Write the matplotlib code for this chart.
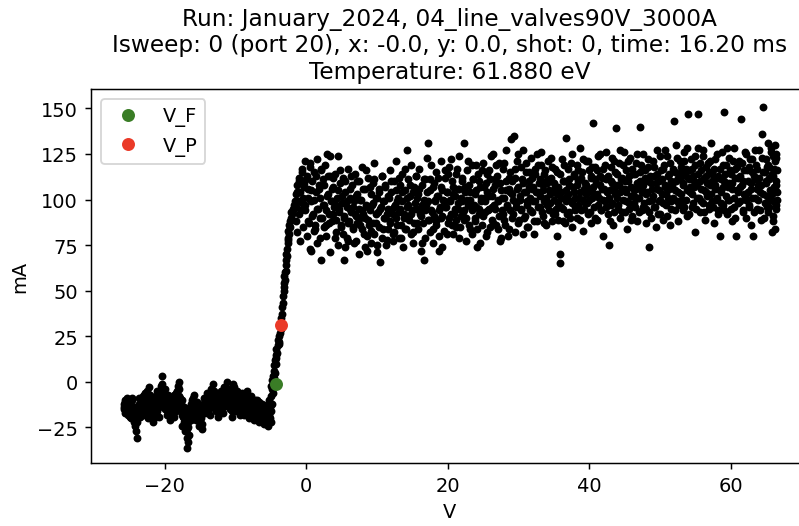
"""Langmuir probe I-V trace for one sweep, with floating and plasma potentials."""

import matplotlib

matplotlib.use("Agg")
import matplotlib.pyplot as plt
import numpy as np

RUN = "January_2024"
SETUP = "04_line_valves90V_3000A"
ISWEEP = 0
PORT = 20
PROBE_X = -0.0
PROBE_Y = 0.0
SHOT = 0
TIME_MS = 16.20
TEMPERATURE_EV = 61.880

# floating potential and plasma potential (V, mA)
V_F = (-4.2, -1.2)
V_P = (-3.5, 31.0)

# ion saturation branch (V, mA), up-sweep then down-sweep
FLOOR_UP = [
    (-25.8, -12), (-25.7, -14), (-25.6, -10), (-25.5, -16), (-25.3, -13), (-25.2, -18), (-25.1, -11), (-24.9, -15), (-24.8, -20), (-24.7, -13),
    (-24.6, -9), (-24.4, -17), (-24.3, -22), (-24.2, -14), (-24.0, -27), (-23.9, -31), (-23.8, -19), (-23.6, -12), (-23.5, -16), (-23.4, -10),
    (-23.3, -14), (-23.1, -8), (-23.0, -18), (-22.9, -12), (-22.7, -6), (-22.6, -15), (-22.5, -9), (-22.4, -20), (-22.2, -3), (-22.1, -11),
    (-22.0, -7), (-21.8, -14), (-21.7, -22), (-21.6, -17), (-21.5, -12), (-21.3, -9), (-21.2, -16), (-21.1, -5), (-20.9, -13), (-20.8, -19),
    (-20.7, -8), (-20.5, -2), (-20.4, -11), (-20.3, 3), (-20.1, -6), (-20.0, -15), (-19.9, -10), (-19.7, -18), (-19.6, -13), (-19.5, -7),
    (-19.3, -16), (-19.2, -21), (-19.1, -12), (-18.9, -9), (-18.8, -14), (-18.7, -19), (-18.5, -11), (-18.4, -6), (-18.3, -15), (-18.1, -2),
    (-18.0, -8), (-17.9, 0), (-17.7, -12), (-17.6, -18), (-17.5, -24), (-17.3, -14), (-17.2, -20), (-17.1, -27), (-16.9, -31), (-16.8, -36),
    (-16.7, -22), (-16.6, -29), (-16.4, -17), (-16.3, -12), (-16.2, -19), (-16.0, -9), (-15.9, -14), (-15.8, -7), (-15.6, -21), (-15.5, -16),
    (-15.4, -11), (-15.2, -18), (-15.1, -24), (-15.0, -13), (-14.8, -20), (-14.7, -26), (-14.6, -15), (-14.4, -9), (-14.3, -17), (-14.2, -12),
    (-14.0, -6), (-13.9, -14), (-13.8, -10), (-13.6, -18), (-13.5, -4), (-13.4, -13), (-13.2, -8), (-13.1, -1), (-13.0, -11), (-12.8, -16),
    (-12.7, -7), (-12.6, -12), (-12.4, -19), (-12.3, -9), (-12.2, -14), (-12.0, -5), (-11.9, -11), (-11.8, -17), (-11.6, -3), (-11.5, -8),
    (-11.4, -13), (-11.2, 0), (-11.1, -6), (-11.0, -10), (-10.8, -15), (-10.7, -4), (-10.6, -9), (-10.5, -19), (-10.3, -1), (-10.2, -7),
    (-10.1, -12), (-9.9, -16), (-9.8, -5), (-9.7, -10), (-9.5, -14), (-9.4, -8), (-9.3, -18), (-9.1, -11), (-9.0, -6), (-8.9, -15),
    (-8.7, -9), (-8.6, -13), (-8.5, -17), (-8.3, -5), (-8.2, -11), (-8.1, -20), (-7.9, -14), (-7.8, -8), (-7.7, -12), (-7.5, -18),
    (-7.4, -21), (-7.3, -13), (-7.1, -16), (-7.0, -10), (-6.9, -19), (-6.7, -14), (-6.6, -22), (-6.5, -17), (-6.3, -12), (-6.2, -20),
    (-6.1, -15), (-5.9, -23), (-5.8, -18), (-5.7, -13), (-5.5, -21), (-5.4, -16), (-5.3, -10), (-5.2, -19), (-5.1, -14), (-5.0, -22),
]

FLOOR_DOWN = [
    (-25.75, -15), (-25.65, -11), (-25.55, -17), (-25.45, -13), (-25.25, -9), (-25.15, -16), (-25.05, -12), (-24.85, -19), (-24.75, -14), (-24.65, -10),
    (-24.55, -13), (-24.35, -20), (-24.25, -15), (-24.15, -24), (-23.95, -18), (-23.85, -22), (-23.75, -14), (-23.55, -9), (-23.45, -19), (-23.35, -13),
    (-23.25, -11), (-23.05, -16), (-22.95, -7), (-22.85, -13), (-22.65, -10), (-22.55, -18), (-22.45, -5), (-22.35, -12), (-22.15, -8), (-22.05, -15),
    (-21.95, -12), (-21.75, -18), (-21.65, -10), (-21.55, -15), (-21.45, -20), (-21.25, -13), (-21.15, -8), (-21.05, -16), (-20.85, -11), (-20.75, -14),
    (-20.65, -5), (-20.45, -9), (-20.35, -1), (-20.25, -7), (-20.05, -12), (-19.95, -4), (-19.85, -14), (-19.65, -9), (-19.55, -17), (-19.45, -11),
    (-19.25, -13), (-19.15, -9), (-19.05, -17), (-18.85, -14), (-18.75, -11), (-18.65, -7), (-18.45, -16), (-18.35, -10), (-18.25, -5), (-18.05, -12),
    (-17.95, -4), (-17.85, -9), (-17.65, -15), (-17.55, -10), (-17.45, -19), (-17.25, -22), (-17.15, -16), (-17.05, -24), (-16.85, -26), (-16.75, -33),
    (-16.65, -25), (-16.55, -19), (-16.35, -14), (-16.25, -21), (-16.15, -10), (-15.95, -16), (-15.85, -12), (-15.75, -18), (-15.55, -13), (-15.45, -20),
    (-15.35, -14), (-15.15, -21), (-15.05, -16), (-14.95, -19), (-14.75, -23), (-14.65, -17), (-14.55, -12), (-14.35, -14), (-14.25, -10), (-14.15, -16),
    (-13.95, -11), (-13.85, -8), (-13.75, -15), (-13.55, -12), (-13.45, -9), (-13.35, -6), (-13.15, -13), (-13.05, -5), (-12.95, -14), (-12.75, -10),
    (-12.65, -15), (-12.55, -9), (-12.35, -13), (-12.25, -17), (-12.15, -8), (-11.95, -12), (-11.85, -6), (-11.75, -14), (-11.55, -10), (-11.45, -5),
    (-11.35, -9), (-11.15, -4), (-11.05, -12), (-10.95, -7), (-10.75, -11), (-10.65, -14), (-10.55, -6), (-10.45, -16), (-10.25, -9), (-10.15, -3),
    (-10.05, -9), (-9.85, -12), (-9.75, -7), (-9.65, -14), (-9.45, -11), (-9.35, -16), (-9.25, -9), (-9.05, -13), (-8.95, -10), (-8.85, -18),
    (-8.65, -12), (-8.55, -16), (-8.45, -10), (-8.25, -14), (-8.15, -8), (-8.05, -16), (-7.85, -11), (-7.75, -19), (-7.65, -15), (-7.45, -13),
    (-7.35, -17), (-7.25, -10), (-7.05, -20), (-6.95, -14), (-6.85, -16), (-6.65, -11), (-6.55, -18), (-6.45, -13), (-6.25, -21), (-6.15, -16),
    (-6.05, -19), (-5.85, -14), (-5.75, -21), (-5.65, -17), (-5.45, -12), (-5.35, -24), (-5.25, -18), (-5.15, -13), (-5.05, -20), (-4.95, -16),
]

# transition region
RISE = [
    (-4.9, -8), (-4.9, -2), (-4.8, -12), (-4.8, -4), (-4.8, 1), (-4.7, -6), (-4.7, 3), (-4.6, -1), (-4.6, 6), (-4.5, 2),
    (-4.5, 9), (-4.4, 5), (-4.4, 12), (-4.3, 10), (-4.3, 15), (-4.2, 13), (-4.2, 18), (-4.1, 16), (-4.0, 20), (-4.0, 23),
    (-3.9, 21), (-3.8, 25), (-3.8, 22), (-3.7, 27), (-3.6, 29), (-3.6, 32), (-3.5, 30), (-3.5, 35), (-3.4, 37), (-3.4, 41),
    (-3.3, 43), (-3.3, 47), (-3.2, 50), (-3.2, 54), (-3.1, 52), (-3.1, 58), (-3.0, 60), (-3.0, 56), (-2.9, 64), (-2.9, 61),
    (-2.8, 67), (-2.8, 70), (-2.7, 73), (-2.7, 69), (-2.6, 76), (-2.6, 79), (-2.5, 78), (-2.5, 83), (-2.4, 81), (-2.4, 86),
    (-2.3, 88), (-2.3, 85), (-2.2, 90), (-2.1, 89), (-2.1, 93), (-2.0, 92), (-1.9, 95), (-1.8, 94), (-1.7, 97), (-1.6, 99),
]

# electron saturation branch, up-sweep then down-sweep
PLATEAU_UP = [
    (-1.5, 103), (-1.4, 96), (-1.3, 108), (-1.1, 99), (-1.0, 112), (-0.9, 104), (-0.7, 94), (-0.6, 117), (-0.5, 101), (-0.3, 109),
    (-0.2, 121), (-0.1, 97), (0.1, 113), (0.2, 88), (0.3, 106), (0.5, 118), (0.6, 73), (0.7, 99), (0.8, 110), (1.0, 92),
    (1.1, 115), (1.2, 84), (1.4, 104), (1.5, 122), (1.6, 95), (1.8, 108), (1.9, 79), (2.0, 101), (2.1, 116), (2.3, 90),
    (2.4, 111), (2.5, 97), (2.7, 119), (2.8, 86), (2.9, 125), (3.1, 103), (3.2, 92), (3.3, 113), (3.4, 124), (3.6, 99),
    (3.7, 88), (3.8, 107), (4.0, 96), (4.1, 114), (4.2, 82), (4.4, 101), (4.5, 124), (4.6, 93), (4.8, 109), (4.9, 85),
    (5.0, 98), (5.2, 112), (5.3, 67), (5.4, 90), (5.5, 104), (5.7, 79), (5.8, 96), (5.9, 117), (6.1, 88), (6.2, 101),
    (6.3, 93), (6.5, 108), (6.6, 84), (6.7, 99), (6.9, 114), (7.0, 91), (7.1, 77), (7.2, 103), (7.4, 95), (7.5, 110),
    (7.6, 86), (7.8, 100), (7.9, 118), (8.0, 92), (8.2, 81), (8.3, 106), (8.4, 97), (8.6, 72), (8.7, 89), (8.8, 112),
    (9.0, 94), (9.1, 103), (9.2, 83), (9.4, 109), (9.5, 98), (9.6, 120), (9.8, 87), (9.9, 101), (10.0, 75), (10.2, 93),
    (10.3, 106), (10.4, 66), (10.6, 96), (10.7, 113), (10.8, 84), (11.0, 99), (11.1, 90), (11.2, 108), (11.4, 78), (11.5, 102),
    (11.6, 95), (11.8, 116), (11.9, 88), (12.0, 104), (12.2, 92), (12.3, 81), (12.4, 110), (12.6, 97), (12.7, 121), (12.8, 86),
    (13.0, 101), (13.1, 93), (13.2, 108), (13.4, 79), (13.5, 99), (13.6, 114), (13.8, 90), (13.9, 105), (14.0, 84), (14.2, 96),
    (14.3, 127), (14.4, 111), (14.6, 89), (14.7, 102), (14.8, 119), (15.0, 94), (15.1, 82), (15.2, 107), (15.4, 98), (15.5, 113),
    (15.6, 87), (15.8, 103), (15.9, 95), (16.0, 117), (16.2, 91), (16.3, 108), (16.4, 76), (16.6, 100), (16.7, 67), (16.8, 111),
    (17.0, 97), (17.1, 123), (17.2, 131), (17.4, 89), (17.5, 105), (17.6, 119), (17.8, 93), (17.9, 84), (18.0, 109), (18.2, 99),
    (18.3, 115), (18.4, 88), (18.6, 102), (18.7, 94), (18.8, 72), (19.0, 107), (19.1, 121), (19.2, 91), (19.4, 100), (19.5, 83),
    (19.6, 112), (19.8, 96), (19.9, 104), (20.0, 87), (20.2, 118), (20.3, 99), (20.4, 92), (20.6, 110), (20.7, 81), (20.8, 103),
    (21.0, 95), (21.1, 114), (21.2, 89), (21.4, 106), (21.5, 98), (21.6, 124), (21.8, 85), (21.9, 101), (22.0, 112), (22.2, 93),
    (22.3, 131), (22.4, 104), (22.6, 90), (22.7, 116), (22.8, 97), (23.0, 108), (23.1, 84), (23.2, 100), (23.4, 119), (23.5, 94),
    (23.6, 111), (23.8, 88), (23.9, 103), (24.0, 96), (24.1, 74), (24.3, 114), (24.4, 92), (24.5, 107), (24.7, 99), (24.8, 86),
    (25.0, 120), (25.1, 101), (25.2, 93), (25.4, 109), (25.5, 82), (25.6, 104), (25.8, 116), (25.9, 95), (26.0, 111), (26.2, 89),
    (26.3, 102), (26.4, 125), (26.6, 97), (26.7, 108), (26.8, 86), (27.0, 113), (27.1, 99), (27.2, 120), (27.4, 77), (27.5, 105),
    (27.6, 94), (27.8, 117), (27.9, 101), (28.0, 89), (28.2, 110), (28.3, 127), (28.4, 96), (28.6, 106), (28.7, 84), (28.8, 115),
    (29.0, 133), (29.1, 103), (29.2, 92), (29.4, 135), (29.5, 112), (29.6, 98), (29.8, 121), (29.9, 87), (30.0, 107), (30.2, 100),
    (30.3, 118), (30.4, 94), (30.6, 109), (30.7, 127), (30.8, 90), (31.0, 104), (31.1, 115), (31.2, 97), (31.4, 85), (31.5, 110),
    (31.6, 101), (31.8, 123), (31.9, 93), (32.0, 107), (32.2, 81), (32.3, 114), (32.4, 99), (32.6, 88), (32.7, 119), (32.8, 104),
    (33.0, 96), (33.1, 111), (33.2, 126), (33.4, 91), (33.5, 105), (33.6, 99), (33.8, 116), (33.9, 86), (34.0, 109), (34.2, 121),
    (34.3, 94), (34.4, 103), (34.6, 112), (34.7, 88), (34.8, 118), (35.0, 100), (35.1, 92), (35.2, 107), (35.4, 80), (35.5, 115),
    (35.6, 98), (35.8, 70), (35.9, 65), (36.0, 104), (36.2, 122), (36.3, 95), (36.4, 110), (36.6, 87), (36.7, 134), (36.8, 102),
    (37.0, 117), (37.1, 93), (37.2, 108), (37.4, 99), (37.5, 125), (37.6, 85), (37.8, 113), (37.9, 104), (38.0, 96), (38.2, 119),
    (38.3, 90), (38.4, 110), (38.6, 101), (38.7, 128), (38.8, 94), (39.0, 115), (39.1, 83), (39.2, 106), (39.4, 98), (39.5, 121),
    (39.6, 108), (39.8, 92), (39.9, 116), (40.0, 100), (40.2, 87), (40.3, 112), (40.4, 104), (40.5, 142), (40.7, 96), (40.8, 118),
    (41.0, 109), (41.1, 89), (41.2, 124), (41.4, 101), (41.5, 113), (41.6, 94), (41.8, 106), (41.9, 80), (42.0, 117), (42.2, 99),
    (42.3, 111), (42.4, 126), (42.6, 92), (42.8, 75), (42.9, 105), (43.0, 118), (43.1, 97), (43.2, 109), (43.4, 86), (43.5, 121),
    (43.6, 103), (43.8, 139), (43.9, 114), (44.0, 95), (44.2, 108), (44.3, 127), (44.4, 90), (44.6, 112), (44.7, 100), (44.8, 119),
    (45.0, 93), (45.1, 106), (45.2, 116), (45.4, 84), (45.5, 110), (45.6, 98), (45.8, 123), (45.9, 102), (46.0, 91), (46.2, 114),
    (46.3, 105), (46.4, 96), (46.6, 120), (46.7, 88), (46.8, 109), (47.0, 101), (47.1, 140), (47.2, 115), (47.4, 94), (47.5, 107),
    (47.6, 125), (47.8, 98), (47.9, 112), (48.0, 87), (48.2, 104), (48.3, 118), (48.4, 93), (48.5, 74), (48.7, 109), (48.8, 100),
    (49.0, 121), (49.1, 96), (49.2, 113), (49.4, 85), (49.5, 106), (49.6, 127), (49.8, 99), (49.9, 110), (50.0, 92), (50.2, 116),
    (50.3, 103), (50.4, 89), (50.6, 119), (50.7, 108), (50.8, 97), (51.0, 124), (51.1, 101), (51.2, 114), (51.4, 86), (51.5, 110),
    (51.6, 95), (51.8, 117), (52.0, 143), (52.1, 105), (52.2, 130), (52.4, 99), (52.5, 112), (52.6, 88), (52.8, 121), (52.9, 103),
    (53.0, 115), (53.2, 94), (53.3, 108), (53.4, 126), (53.6, 100), (53.7, 117), (53.8, 91), (54.0, 147), (54.1, 111), (54.2, 104),
    (54.4, 122), (54.5, 96), (54.6, 113), (54.8, 107), (54.9, 82), (55.0, 119), (55.2, 101), (55.3, 147), (55.4, 128), (55.6, 93),
    (55.7, 110), (55.8, 116), (56.0, 98), (56.1, 124), (56.2, 105), (56.4, 89), (56.5, 113), (56.6, 102), (56.8, 120), (56.9, 95),
    (57.0, 108), (57.2, 131), (57.3, 99), (57.4, 114), (57.6, 87), (57.7, 106), (57.8, 122), (58.0, 101), (58.1, 112), (58.2, 94),
    (58.4, 80), (58.5, 117), (58.6, 104), (58.8, 126), (58.9, 97), (59.0, 110), (59.1, 148), (59.3, 119), (59.4, 92), (59.6, 107),
    (59.7, 123), (59.8, 100), (60.0, 114), (60.1, 88), (60.2, 109), (60.4, 128), (60.5, 96), (60.6, 117), (60.8, 80), (60.9, 105),
    (61.0, 112), (61.2, 121), (61.3, 99), (61.5, 144), (61.6, 108), (61.7, 93), (61.8, 116), (62.0, 102), (62.1, 125), (62.2, 90),
    (62.4, 110), (62.5, 118), (62.6, 97), (62.8, 106), (62.9, 86), (63.0, 122), (63.2, 80), (63.3, 113), (63.4, 101), (63.6, 119),
    (63.7, 95), (63.8, 108), (64.0, 127), (64.1, 104), (64.2, 89), (64.4, 136), (64.5, 151), (64.6, 115), (64.8, 98), (64.9, 122),
    (65.0, 110), (65.2, 131), (65.3, 93), (65.4, 118), (65.6, 105), (65.7, 126), (65.8, 82), (66.0, 113), (66.1, 99), (66.3, 121),
    (66.4, 108), (66.5, 116), (66.2, 130), (65.9, 88), (66.4, 95), (66.0, 124), (65.5, 100), (66.3, 84), (66.5, 104), (65.1, 118),
]

PLATEAU_DOWN = [
    (-1.45, 88), (-1.35, 104), (-1.25, 82), (-1.05, 110), (-0.95, 92), (-0.85, 77), (-0.65, 115), (-0.55, 98), (-0.45, 85), (-0.25, 107),
    (-0.15, 94), (-0.05, 111), (0.15, 80), (0.25, 101), (0.35, 87), (0.55, 120), (0.65, 72), (0.75, 105), (0.85, 91), (1.05, 83),
    (1.15, 100), (1.25, 86), (1.45, 113), (1.55, 76), (1.65, 95), (1.85, 106), (1.95, 90), (2.05, 117), (2.15, 67), (2.35, 97),
    (2.45, 85), (2.55, 108), (2.75, 94), (2.85, 80), (2.95, 102), (3.15, 113), (3.25, 87), (3.35, 71), (3.45, 99), (3.65, 106),
    (3.75, 92), (3.85, 112), (4.05, 79), (4.15, 97), (4.25, 89), (4.45, 105), (4.55, 75), (4.65, 95), (4.85, 116), (4.95, 86),
    (5.05, 102), (5.25, 81), (5.35, 91), (5.45, 110), (5.55, 74), (5.75, 99), (5.85, 87), (5.95, 77), (6.15, 106), (6.25, 95),
    (6.35, 113), (6.55, 85), (6.65, 96), (6.75, 76), (6.95, 92), (7.05, 102), (7.15, 87), (7.25, 110), (7.45, 70), (7.55, 90),
    (7.65, 100), (7.85, 84), (7.95, 94), (8.05, 106), (8.25, 74), (8.35, 90), (8.45, 116), (8.65, 80), (8.75, 96), (8.85, 86),
    (9.05, 107), (9.15, 76), (9.25, 97), (9.45, 87), (9.55, 111), (9.65, 81), (9.85, 92), (9.95, 101), (10.05, 71), (10.25, 104),
    (10.35, 85), (10.45, 95), (10.65, 113), (10.75, 79), (10.85, 99), (11.05, 90), (11.15, 107), (11.25, 75), (11.45, 92), (11.55, 84),
    (11.65, 101), (11.85, 87), (11.95, 94), (12.05, 110), (12.25, 77), (12.35, 96), (12.45, 82), (12.65, 105), (12.75, 90), (12.85, 99),
    (13.05, 112), (13.15, 79), (13.25, 95), (13.45, 86), (13.55, 104), (13.65, 74), (13.85, 92), (13.95, 117), (14.05, 84), (14.25, 101),
    (14.35, 90), (14.45, 97), (14.65, 108), (14.75, 81), (14.85, 92), (15.05, 76), (15.15, 104), (15.25, 87), (15.45, 113), (15.55, 95),
    (15.65, 101), (15.85, 84), (15.95, 106), (16.05, 92), (16.25, 72), (16.35, 97), (16.45, 87), (16.65, 111), (16.75, 79), (16.85, 94),
    (17.05, 104), (17.15, 89), (17.25, 99), (17.45, 111), (17.55, 82), (17.65, 94), (17.85, 76), (17.95, 107), (18.05, 91), (18.25, 100),
    (18.35, 86), (18.45, 102), (18.65, 112), (18.75, 80), (18.85, 96), (19.05, 90), (19.15, 105), (19.25, 74), (19.45, 99), (19.55, 116),
    (19.65, 96), (19.85, 81), (19.95, 104), (20.05, 114), (20.25, 90), (20.35, 100), (20.45, 122), (20.65, 86), (20.75, 107), (20.85, 92),
    (21.05, 102), (21.15, 85), (21.25, 117), (21.45, 95), (21.55, 79), (21.65, 106), (21.85, 91), (21.95, 110), (22.05, 99), (22.25, 89),
    (22.35, 94), (22.45, 107), (22.65, 77), (22.75, 100), (22.85, 121), (23.05, 86), (23.15, 104), (23.25, 96), (23.45, 81), (23.55, 111),
    (23.65, 97), (23.85, 90), (23.95, 119), (24.05, 105), (24.15, 84), (24.35, 95), (24.45, 110), (24.55, 76), (24.75, 101), (24.85, 116),
    (25.05, 91), (25.15, 107), (25.25, 99), (25.45, 80), (25.55, 114), (25.65, 94), (25.85, 102), (25.95, 85), (26.05, 124), (26.25, 96),
    (26.35, 106), (26.45, 87), (26.65, 111), (26.75, 95), (26.85, 119), (27.05, 84), (27.15, 100), (27.25, 91), (27.45, 109), (27.55, 79),
    (27.65, 101), (27.85, 92), (27.95, 120), (28.05, 86), (28.25, 105), (28.35, 97), (28.45, 80), (28.65, 112), (28.75, 94), (28.85, 104),
    (29.05, 90), (29.15, 110), (29.25, 100), (29.45, 82), (29.55, 117), (29.65, 96), (29.85, 106), (29.95, 125), (30.05, 89), (30.25, 102),
    (30.35, 95), (30.45, 111), (30.65, 81), (30.75, 104), (30.85, 91), (31.05, 120), (31.15, 99), (31.25, 85), (31.45, 107), (31.55, 115),
    (31.65, 94), (31.85, 106), (31.95, 112), (32.05, 99), (32.25, 88), (32.35, 117), (32.45, 104), (32.65, 125), (32.75, 96), (32.85, 109),
    (33.05, 102), (33.15, 119), (33.25, 93), (33.45, 108), (33.55, 114), (33.65, 87), (33.85, 101), (33.95, 110), (34.05, 97), (34.25, 105),
    (34.35, 111), (34.45, 98), (34.65, 123), (34.75, 104), (34.85, 92), (35.05, 109), (35.15, 117), (35.25, 95), (35.45, 103), (35.55, 89),
    (35.65, 107), (35.85, 114), (35.95, 96), (36.05, 101), (36.25, 88), (36.35, 110), (36.45, 119), (36.65, 99), (36.75, 105), (36.85, 92),
    (37.05, 103), (37.15, 111), (37.25, 90), (37.45, 120), (37.55, 98), (37.65, 107), (37.85, 114), (37.95, 94), (38.05, 101), (38.25, 108),
    (38.35, 116), (38.45, 97), (38.65, 104), (38.75, 89), (38.85, 112), (39.05, 100), (39.15, 122), (39.25, 95), (39.45, 109), (39.55, 103),
    (39.65, 98), (39.85, 121), (39.95, 105), (40.05, 93), (40.25, 113), (40.35, 101), (40.45, 118), (40.55, 107), (40.75, 90), (40.85, 111),
    (41.05, 103), (41.15, 116), (41.25, 97), (41.45, 108), (41.55, 125), (41.65, 94), (41.85, 112), (41.95, 100), (42.05, 106), (42.25, 119),
    (42.35, 96), (42.45, 104), (42.65, 113), (42.85, 101), (42.95, 88), (43.05, 110), (43.15, 98), (43.25, 123), (43.45, 106), (43.55, 93),
    (43.65, 115), (43.85, 101), (43.95, 108), (44.05, 97), (44.25, 120), (44.35, 104), (44.45, 111), (44.65, 93), (44.75, 106), (44.85, 126),
    (45.05, 110), (45.15, 99), (45.25, 104), (45.45, 121), (45.55, 95), (45.65, 113), (45.85, 107), (45.95, 89), (46.05, 117), (46.25, 102),
    (46.35, 98), (46.45, 114), (46.65, 106), (46.75, 125), (46.85, 101), (47.05, 93), (47.15, 110), (47.25, 119), (47.45, 104), (47.55, 96),
    (47.65, 108), (47.85, 116), (47.95, 103), (48.05, 95), (48.25, 122), (48.35, 110), (48.45, 99), (48.55, 113), (48.75, 90), (48.85, 106),
    (49.05, 102), (49.15, 118), (49.25, 96), (49.45, 109), (49.55, 114), (49.65, 92), (49.85, 105), (49.95, 124), (50.05, 100), (50.25, 111),
    (50.35, 117), (50.45, 98), (50.65, 107), (50.75, 127), (50.85, 103), (51.05, 91), (51.15, 113), (51.25, 106), (51.45, 120), (51.55, 99),
    (51.65, 108), (51.85, 101), (52.05, 115), (52.15, 94), (52.25, 110), (52.45, 123), (52.55, 104), (52.65, 97), (52.85, 112), (52.95, 118),
    (53.05, 100), (53.25, 109), (53.35, 121), (53.45, 96), (53.65, 113), (53.75, 105), (53.85, 128), (54.05, 92), (54.15, 116), (54.25, 107),
    (54.45, 103), (54.55, 117), (54.65, 98), (54.85, 110), (54.95, 124), (55.05, 95), (55.25, 108), (55.35, 114), (55.45, 101), (55.65, 120),
    (55.75, 99), (55.85, 106), (56.05, 127), (56.15, 112), (56.25, 93), (56.45, 118), (56.55, 104), (56.65, 109), (56.85, 97), (56.95, 115),
    (57.05, 121), (57.25, 103), (57.35, 110), (57.45, 96), (57.65, 117), (57.75, 108), (57.85, 100), (58.05, 125), (58.15, 92), (58.25, 113),
    (58.45, 105), (58.55, 111), (58.65, 98), (58.85, 119), (58.95, 107), (59.05, 94), (59.15, 114), (59.35, 102), (59.45, 128), (59.65, 100),
    (59.75, 109), (59.85, 116), (60.05, 95), (60.15, 106), (60.25, 121), (60.45, 101), (60.55, 112), (60.65, 90), (60.85, 118), (60.95, 104),
    (61.05, 98), (61.25, 113), (61.35, 107), (61.55, 120), (61.65, 94), (61.75, 110), (61.85, 103), (62.05, 126), (62.15, 100), (62.25, 116),
    (62.45, 104), (62.55, 96), (62.65, 122), (62.85, 109), (62.95, 115), (63.05, 101), (63.25, 93), (63.35, 111), (63.45, 127), (63.65, 106),
    (63.75, 117), (63.85, 100), (64.05, 112), (64.15, 94), (64.25, 108), (64.45, 123), (64.55, 103), (64.65, 90), (64.85, 115), (64.95, 109),
    (65.05, 102), (65.25, 119), (65.35, 96), (65.45, 111), (65.65, 128), (65.75, 105), (65.85, 114), (66.05, 99), (66.15, 107), (66.35, 123),
    (66.45, 110), (66.35, 97), (66.15, 117), (65.85, 103), (66.45, 125), (65.95, 91), (65.45, 112), (66.25, 106), (66.55, 100), (65.15, 96),
]

XLIM = (-30.4, 70.9)
YLIM = (-44.5, 160.6)


def build_figure():
    plt.rcParams["font.size"] = 10.5
    trace = np.array(FLOOR_UP + FLOOR_DOWN + RISE + PLATEAU_UP + PLATEAU_DOWN, dtype=float)

    fig = plt.figure(figsize=(6, 3.9525), dpi=133.33)
    # axes run slightly past the right edge of the canvas
    ax = fig.add_axes([91 / 800, 63 / 527, 717 / 800, 374 / 527])

    ax.plot(trace[:, 0], trace[:, 1], ".", color="black", markersize=6.5)
    ax.plot(*V_F, "o", color="#3a7d26", label="V_F")
    ax.plot(*V_P, "o", color="#ea3a28", label="V_P")

    ax.set_xlim(*XLIM)
    ax.set_ylim(*YLIM)
    ax.set_xlabel("V")
    ax.set_ylabel("mA")
    ax.set_title(
        f"Run: {RUN}, {SETUP}\n"
        f"Isweep: {ISWEEP} (port {PORT}), x: {PROBE_X:.1f}, y: {PROBE_Y:.1f}, "
        f"shot: {SHOT}, time: {TIME_MS:.2f} ms\n"
        f"Temperature: {TEMPERATURE_EV:.3f} eV"
    )
    ax.legend(loc="upper left")
    return fig


def main():
    fig = build_figure()
    fig.savefig("out.png", dpi=133.33)


if __name__ == "__main__":
    main()
